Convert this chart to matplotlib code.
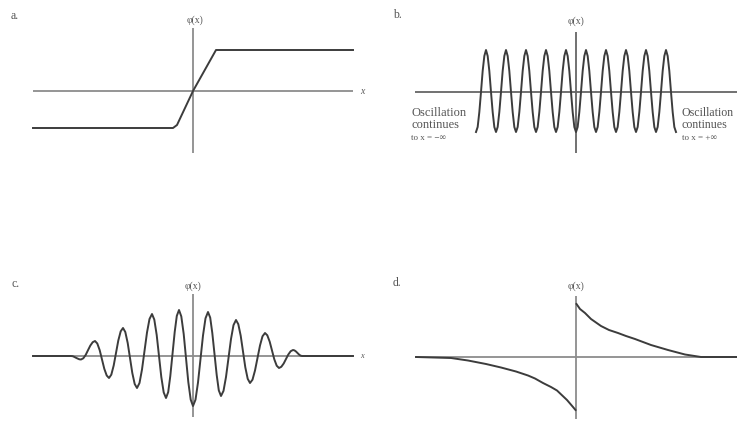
import numpy as np
import matplotlib
matplotlib.use("Agg")
import matplotlib.pyplot as plt

# ---------------- DATA (units: 1 = 10 px, origin at each panel's axis cross) ----------------

# a. ramp / kink
ramp_x = [-16.0, -2.0, -1.6, 0.0, 2.3, 16.0]
ramp_y = [-3.7, -3.7, -3.4, 0.0, 4.1, 4.1]

# b. plain oscillation (read every 1/12 of a period)
osc_x = np.linspace(-10, 10, 121)
osc_y = [
    -4.0, -3.5, -2.0, 0.0, 2.1, 3.6, 4.2, 3.6, 2.1, 0.0, -2.0, -3.5,
    -4.0, -3.5, -2.0, 0.0, 2.1, 3.6, 4.2, 3.6, 2.1, 0.0, -2.0, -3.5,
    -4.0, -3.5, -2.0, 0.0, 2.1, 3.6, 4.2, 3.6, 2.1, 0.0, -2.0, -3.5,
    -4.0, -3.5, -2.0, 0.0, 2.1, 3.6, 4.2, 3.6, 2.1, 0.0, -2.0, -3.5,
    -4.0, -3.5, -2.0, 0.0, 2.1, 3.6, 4.2, 3.6, 2.1, 0.0, -2.0, -3.5,
    -4.0, -3.5, -2.0, 0.0, 2.1, 3.6, 4.2, 3.6, 2.1, 0.0, -2.0, -3.5,
    -4.0, -3.5, -2.0, 0.0, 2.1, 3.6, 4.2, 3.6, 2.1, 0.0, -2.0, -3.5,
    -4.0, -3.5, -2.0, 0.0, 2.1, 3.6, 4.2, 3.6, 2.1, 0.0, -2.0, -3.5,
    -4.0, -3.5, -2.0, 0.0, 2.1, 3.6, 4.2, 3.6, 2.1, 0.0, -2.0, -3.5,
    -4.0, -3.5, -2.0, 0.0, 2.1, 3.6, 4.2, 3.6, 2.1, 0.0, -2.0, -3.5,
    -4.0,
]

# c. wave packet
packet_x = [
    -16.0, -12.2, -12.03, -11.87, -11.7, -11.53, -11.37,
    -11.2, -10.97, -10.73, -10.5, -10.27, -10.03,
    -9.8, -9.57, -9.33, -9.1, -8.87, -8.63,
    -8.4, -8.17, -7.93, -7.7, -7.47, -7.23,
    -7.0, -6.77, -6.53, -6.3, -6.07, -5.83,
    -5.6, -5.35, -5.1, -4.85, -4.6, -4.35,
    -4.1, -3.87, -3.63, -3.4, -3.17, -2.93,
    -2.7, -2.48, -2.27, -2.05, -1.83, -1.62,
    -1.4, -1.17, -0.93, -0.7, -0.47, -0.23,
    0.0, 0.25, 0.5, 0.75, 1.0, 1.25,
    1.5, 1.72, 1.93, 2.15, 2.37, 2.58,
    2.8, 3.05, 3.3, 3.55, 3.8, 4.05,
    4.3, 4.53, 4.77, 5.0, 5.23, 5.47,
    5.7, 5.95, 6.2, 6.45, 6.7, 6.95,
    7.2, 7.43, 7.67, 7.9, 8.13, 8.37,
    8.6, 8.83, 9.07, 9.3, 9.53, 9.77,
    10.0, 10.15, 10.3, 10.45, 10.6, 10.75,
    10.9, 16.0,
]
packet_y = [
    0.0, 0.0, -0.02, -0.09, -0.18, -0.26, -0.33,
    -0.35, -0.23, 0.11, 0.58, 1.04, 1.38,
    1.5, 1.25, 0.58, -0.35, -1.28, -1.95,
    -2.2, -1.87, -0.95, 0.3, 1.55, 2.47,
    2.8, 2.4, 1.3, -0.2, -1.7, -2.8,
    -3.2, -2.7, -1.35, 0.5, 2.35, 3.7,
    4.2, 3.64, 2.1, 0.0, -2.1, -3.64,
    -4.2, -3.61, -2.0, 0.2, 2.4, 4.01,
    4.6, 3.96, 2.2, -0.2, -2.6, -4.36,
    -5.0, -4.37, -2.65, -0.3, 2.05, 3.77,
    4.4, 3.84, 2.3, 0.2, -1.9, -3.44,
    -4.0, -3.49, -2.1, -0.2, 1.7, 3.09,
    3.6, 3.18, 2.03, 0.45, -1.13, -2.28,
    -2.7, -2.37, -1.45, -0.2, 1.05, 1.97,
    2.3, 2.07, 1.43, 0.55, -0.33, -0.97,
    -1.2, -1.08, -0.75, -0.3, 0.15, 0.48,
    0.6, 0.56, 0.45, 0.3, 0.15, 0.04,
    0.0, 0.0,
]

# d. odd function with a jump at the origin
left_x = [-16.0, -12.5, -10.8, -9.0, -7.5, -6.0, -4.8, -4.1, -3.3, -2.5, -1.9, -0.9, -0.3, -0.05]
left_y = [0.0, -0.1, -0.35, -0.7, -1.05, -1.45, -1.85, -2.15, -2.6, -3.0, -3.35, -4.3, -5.0, -5.3]
right_x = [0.05, 0.4, 0.9, 1.5, 2.5, 3.3, 4.2, 5.0, 5.9, 7.5, 9.2, 10.9, 12.5, 16.1]
right_y = [5.3, 4.8, 4.4, 3.8, 3.1, 2.7, 2.4, 2.1, 1.8, 1.2, 0.7, 0.25, 0.0, 0.0]

# ---------------- FIGURE ----------------
plt.rcParams["font.family"] = ["Liberation Serif", "DejaVu Serif"]

W, H = 737, 447
fig = plt.figure(figsize=(W / 100, H / 100), dpi=100)
fig.patch.set_facecolor("white")

CURVE = "#3c3c3c"
AXIS = "#8c8c8c"
TEXT = "#555555"


def panel(left, top, right, bottom, ox, oy):
    # axes box in pixels, data unit = 10 px, origin at (ox, oy)
    ax = fig.add_axes([left / W, 1 - bottom / H, (right - left) / W, (bottom - top) / H])
    ax.set_xlim((left - ox) / 10, (right - ox) / 10)
    ax.set_ylim((oy - bottom) / 10, (oy - top) / 10)
    ax.axis("off")
    return ax


def axes_cross(ax, x0, x1, y0, y1, color=AXIS):
    ax.plot([x0, x1], [0, 0], color=color, lw=1.3, solid_capstyle="butt")
    ax.plot([0, 0], [y0, y1], color=color, lw=1.3, solid_capstyle="butt")


# ---- a ----
ax = panel(0, 0, 368, 224, 193, 91)
axes_cross(ax, -16.0, 16.0, -6.2, 6.3)
ax.plot(ramp_x, ramp_y, color=CURVE, lw=1.4)
ax.text(-18.2, 7.5, "a.", fontsize=8.5, color=TEXT, va="center")
ax.text(0.2, 7.1, "φ(x)", fontsize=7, color=TEXT, ha="center", va="center")
ax.text(16.7, 0, "x", fontsize=7, color=TEXT, style="italic", va="center")

# ---- b ----
ax = panel(368, 0, 737, 224, 576, 92)
axes_cross(ax, -16.1, 17.0, -6.1, 6.0, color="#666666")
ax.plot(osc_x, osc_y, color=CURVE, lw=1.4)
ax.text(-18.3, 7.7, "b.", fontsize=8.5, color=TEXT, va="center")
ax.text(0, 7.1, "φ(x)", fontsize=7, color=TEXT, ha="center", va="center")
for x0, fs, end in [(-16.5, 9, "to x = −∞"), (10.6, 8.6, "to x = +∞")]:
    ax.text(x0, -2.1, "Oscillation", fontsize=fs, color=TEXT, va="center")
    ax.text(x0, -3.3, "continues", fontsize=fs, color=TEXT, va="center")
    ax.text(x0, -4.6, end, fontsize=6.5, color=TEXT, va="center")

# ---- c ----
ax = panel(0, 224, 368, 447, 193, 356)
axes_cross(ax, -16.0, 16.0, -6.1, 6.2)
ax.plot(packet_x, packet_y, color=CURVE, lw=1.4)
ax.text(-18.2, 7.2, "c.", fontsize=8.5, color=TEXT, va="center")
ax.text(0, 7.0, "φ(x)", fontsize=7, color=TEXT, ha="center", va="center")
ax.text(16.7, 0, "x", fontsize=6, color=TEXT, style="italic", va="center")

# ---- d ----
ax = panel(368, 224, 737, 447, 576, 357)
axes_cross(ax, -16.0, 16.1, -6.2, 6.1)
ax.plot(left_x, left_y, color=CURVE, lw=1.4)
ax.plot(right_x, right_y, color=CURVE, lw=1.4)
ax.text(-18.3, 7.4, "d.", fontsize=8.5, color=TEXT, va="center")
ax.text(0, 7.1, "φ(x)", fontsize=7, color=TEXT, ha="center", va="center")

fig.savefig("out.png", dpi=100, facecolor="white")
